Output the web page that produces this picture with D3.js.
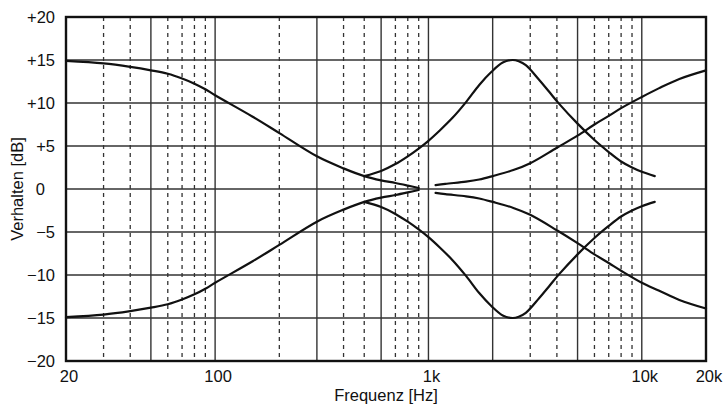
<!DOCTYPE html>
<meta charset="utf-8">
<style>
  body { margin: 0; background: #fff; }
  svg text { font-family: "Liberation Sans", Arial, sans-serif; fill: #111; }
</style>
<svg width="728" height="407"></svg>
<script src="https://d3js.org/d3.v7.min.js"></script>
<script>

// grid frequencies
var solidFreqs = [50, 100, 300, 600, 1000, 2000, 5000, 10000];
var dashedFreqs = [30, 40, 60, 70, 80, 90, 200, 400, 500, 700, 800, 900, 3000, 4000, 6000, 7000, 8000, 9000];
var xTickValues = [20, 100, 1000, 10000, 20000];
var xTickLabels = ["20", "100", "1k", "10k", "20k"];
var yTickValues = [20, 15, 10, 5, 0, -5, -10, -15, -20];
var yTickLabels = ["+20", "+15", "+10", "+5", "0", "\u22125", "\u221210", "\u221215", "\u221220"];

// curves as [Hz, dB]
var lowShelfBoost = [[20, 14.9], [30, 14.6], [40, 14.2], [50, 13.8], [60, 13.4], [70, 12.85], [80, 12.25], [90, 11.6],
  [100, 10.9], [150, 8.4], [200, 6.5], [300, 3.8], [400, 2.4], [500, 1.5], [600, 1.0], [700, 0.7], [800, 0.4], [900, 0.12]];
var lowShelfCut = [[20, -14.9], [30, -14.6], [40, -14.2], [50, -13.8], [60, -13.4], [70, -12.85], [80, -12.25], [90, -11.6],
  [100, -10.9], [150, -8.4], [200, -6.5], [300, -3.8], [400, -2.4], [500, -1.5], [600, -1.0], [700, -0.7], [800, -0.4], [900, -0.12]];
var peakBoost = [[500, 1.5], [600, 2.1], [700, 2.9], [800, 3.8], [900, 4.7], [1000, 5.6], [1130, 6.8], [1300, 8.3],
  [1500, 10.1], [1730, 12.1], [1970, 13.6], [2230, 14.7], [2480, 15.0], [2650, 14.85], [2860, 14.4], [3300, 12.7], [3680, 11.3],
  [4100, 9.9], [5000, 7.6], [6000, 5.7], [7000, 4.3], [8000, 3.2], [9000, 2.5], [10000, 2.0], [11500, 1.5]];
var peakCut = [[500, -1.5], [600, -2.1], [700, -2.9], [800, -3.8], [900, -4.7], [1000, -5.6], [1130, -6.8], [1300, -8.3],
  [1500, -10.1], [1730, -12.1], [1970, -13.6], [2230, -14.7], [2480, -15.0], [2650, -14.85], [2860, -14.4], [3300, -12.7], [3680, -11.3],
  [4100, -9.9], [5000, -7.6], [6000, -5.7], [7000, -4.3], [8000, -3.2], [9000, -2.5], [10000, -2.0], [11500, -1.5]];
var highShelfBoost = [[1080, 0.45], [1200, 0.6], [1500, 0.85], [1730, 1.1], [2000, 1.5], [2500, 2.2], [3000, 3.0],
  [4000, 4.8], [5000, 6.2], [6000, 7.5], [7000, 8.5], [8000, 9.4], [10000, 10.7], [12000, 11.7], [15000, 12.8], [20000, 13.8]];
var highShelfCut = [[1080, -0.45], [1200, -0.6], [1500, -0.85], [1730, -1.1], [2000, -1.5], [2500, -2.2], [3000, -3.0],
  [4000, -4.8], [5000, -6.3], [6000, -7.6], [7000, -8.6], [8000, -9.5], [10000, -10.9], [12000, -11.8], [15000, -12.9], [20000, -13.9]];

var curves = [lowShelfBoost, lowShelfCut, peakBoost, peakCut, highShelfBoost, highShelfCut];

var svg = d3.select("svg"),
    plotLeft = 66, plotRight = 706, plotTop = 17, plotBottom = 361;

var x = d3.scaleLog().domain([20, 20000]).range([plotLeft, plotRight]);
var y = d3.scaleLinear().domain([-20, 20]).range([plotBottom, plotTop]);

var grid = svg.append("g");

grid.selectAll(".dash")
  .data(dashedFreqs)
  .enter().append("line")
    .attr("x1", d => x(d)).attr("x2", d => x(d))
    .attr("y1", plotTop).attr("y2", plotBottom)
    .attr("stroke", "#333")
    .attr("stroke-width", 1.3)
    .attr("stroke-dasharray", "4,4");

grid.selectAll(".solid")
  .data(solidFreqs)
  .enter().append("line")
    .attr("x1", d => x(d)).attr("x2", d => x(d))
    .attr("y1", plotTop).attr("y2", plotBottom)
    .attr("stroke", "#333")
    .attr("stroke-width", 1.4);

grid.selectAll(".hgrid")
  .data(yTickValues.filter(d => d > -20 && d < 20))
  .enter().append("line")
    .attr("x1", plotLeft).attr("x2", plotRight)
    .attr("y1", d => y(d)).attr("y2", d => y(d))
    .attr("stroke", "#333")
    .attr("stroke-width", 1.4);

// frame
svg.append("rect")
  .attr("x", plotLeft).attr("y", plotTop)
  .attr("width", plotRight - plotLeft).attr("height", plotBottom - plotTop)
  .attr("fill", "none")
  .attr("stroke", "#111")
  .attr("stroke-width", 2.4);

var line = d3.line()
  .x(d => x(d[0]))
  .y(d => y(d[1]))
  .curve(d3.curveCatmullRom.alpha(0.5));

svg.append("g").selectAll("path")
  .data(curves)
  .enter().append("path")
    .attr("d", line)
    .attr("fill", "none")
    .attr("stroke", "#111")
    .attr("stroke-width", 2.2)
    .attr("stroke-linecap", "round");

// y tick labels
svg.append("g").selectAll("text")
  .data(yTickValues)
  .enter().append("text")
    .attr("x", d => d === 0 ? 45 : 55)
    .attr("y", d => y(d))
    .attr("dy", "0.36em")
    .attr("text-anchor", "end")
    .attr("font-size", 16.5)
    .text((d, i) => yTickLabels[i]);

// x tick labels
svg.append("g").selectAll("text")
  .data(xTickValues)
  .enter().append("text")
    .attr("x", d => x(d) + 3)
    .attr("y", 382)
    .attr("text-anchor", "middle")
    .attr("font-size", 16.5)
    .text((d, i) => xTickLabels[i]);

svg.append("text")
  .attr("x", 386)
  .attr("y", 401)
  .attr("text-anchor", "middle")
  .attr("font-size", 16.5)
  .text("Frequenz [Hz]");

svg.append("text")
  .attr("transform", "translate(23," + y(0) + ") rotate(-90)")
  .attr("text-anchor", "middle")
  .attr("font-size", 16.5)
  .text("Verhalten [dB]");

</script>
